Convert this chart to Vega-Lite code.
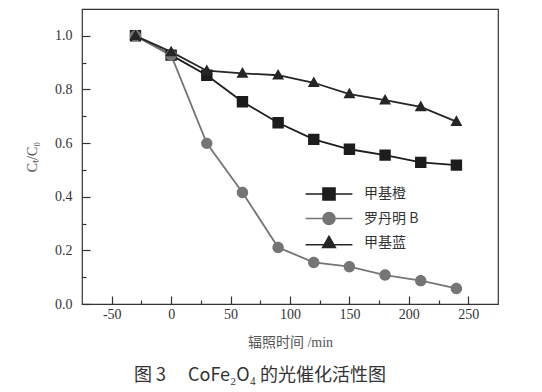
{
  "$schema": "https://vega.github.io/schema/vega-lite/v6.json",
  "width": 416,
  "height": 295,
  "autosize": "none",
  "padding": {"left": 82, "top": 9, "right": 44, "bottom": 88},
  "background": "white",
  "config": {
    "view": {"stroke": "#333", "strokeWidth": 1.2},
    "axis": {"grid": false, "domain": false, "labelFont": "Liberation Serif", "labelFontSize": 14, "labelColor": "#333", "titleFont": "Liberation Serif, Noto Sans CJK SC", "titleFontSize": 14, "titleColor": "#555", "titleFontWeight": "normal", "tickColor": "#333", "tickWidth": 1.2}
  },
  "title": {"text": "图 3\u2003 CoFe₂O₄ 的光催化活性图", "orient": "bottom", "font": "Noto Sans CJK SC", "fontSize": 18, "fontWeight": "normal", "color": "#333", "offset": 18, "dx": -30, "anchor": "middle"},
  "data": {"values": [
    {"t": -30, "c": 1.0, "s": "甲基橙"}, {"t": 0, "c": 0.928, "s": "甲基橙"}, {"t": 30, "c": 0.853, "s": "甲基橙"}, {"t": 60, "c": 0.754, "s": "甲基橙"}, {"t": 90, "c": 0.676, "s": "甲基橙"}, {"t": 120, "c": 0.614, "s": "甲基橙"}, {"t": 150, "c": 0.577, "s": "甲基橙"}, {"t": 180, "c": 0.555, "s": "甲基橙"}, {"t": 210, "c": 0.528, "s": "甲基橙"}, {"t": 240, "c": 0.518, "s": "甲基橙"},
    {"t": -30, "c": 1.0, "s": "罗丹明 B"}, {"t": 0, "c": 0.928, "s": "罗丹明 B"}, {"t": 30, "c": 0.599, "s": "罗丹明 B"}, {"t": 60, "c": 0.416, "s": "罗丹明 B"}, {"t": 90, "c": 0.211, "s": "罗丹明 B"}, {"t": 120, "c": 0.155, "s": "罗丹明 B"}, {"t": 150, "c": 0.139, "s": "罗丹明 B"}, {"t": 180, "c": 0.108, "s": "罗丹明 B"}, {"t": 210, "c": 0.087, "s": "罗丹明 B"}, {"t": 240, "c": 0.058, "s": "罗丹明 B"},
    {"t": -30, "c": 1.0, "s": "甲基蓝"}, {"t": 0, "c": 0.94, "s": "甲基蓝"}, {"t": 30, "c": 0.87, "s": "甲基蓝"}, {"t": 60, "c": 0.86, "s": "甲基蓝"}, {"t": 90, "c": 0.853, "s": "甲基蓝"}, {"t": 120, "c": 0.825, "s": "甲基蓝"}, {"t": 150, "c": 0.783, "s": "甲基蓝"}, {"t": 180, "c": 0.76, "s": "甲基蓝"}, {"t": 210, "c": 0.735, "s": "甲基蓝"}, {"t": 240, "c": 0.68, "s": "甲基蓝"}
  ]},
  "encoding": {
    "x": {"field": "t", "type": "quantitative", "scale": {"domain": [-75, 275], "nice": false, "zero": false},
      "axis": {"title": "辐照时间 /min", "values": [-50, -25, 0, 25, 50, 75, 100, 125, 150, 175, 200, 225, 250], "labelExpr": "datum.value % 50 === 0 ? replace(datum.label, '−', '-') : ''", "tickSize": {"condition": {"test": "datum.value % 50 === 0", "value": -8}, "value": -4}, "labelPadding": 11, "titlePadding": 14}},
    "y": {"field": "c", "type": "quantitative", "scale": {"domain": [0, 1.1], "nice": false},
      "axis": {"title": "Cₜ/C₀", "values": [0, 0.1, 0.2, 0.3, 0.4, 0.5, 0.6, 0.7, 0.8, 0.9, 1.0], "format": ".1f", "labelExpr": "round(datum.value * 10) % 2 === 0 ? datum.label : ''", "tickSize": {"condition": {"test": "round(datum.value * 10) % 2 === 0", "value": -8}, "value": -4}, "labelPadding": 18, "titlePadding": 15}},
    "color": {"field": "s", "type": "nominal", "scale": {"domain": ["甲基橙", "罗丹明 B", "甲基蓝"], "range": ["#1c1c1c", "#757575", "#262626"]},
      "legend": {"title": null, "orient": "none", "legendX": 240, "legendY": 178, "padding": 0, "symbolSize": 144, "symbolStrokeWidth": 1.6, "labelOffset": 28, "rowPadding": 4.5, "labelFont": "Noto Sans CJK SC, Liberation Serif", "labelFontSize": 14, "labelColor": "#333"}}
  },
  "layer": [
    {
      "mark": {"type": "line", "strokeWidth": 1.8},
      "encoding": {"detail": {"field": "s"}}
    },
    {
      "mark": {"type": "point", "filled": true, "opacity": 1, "size": 130, "strokeWidth": 0},
      "encoding": {
        "stroke": {"field": "s", "type": "nominal", "scale": {"domain": ["甲基橙", "罗丹明 B", "甲基蓝"], "range": ["#1c1c1c", "#757575", "#262626"]}},
        "shape": {"field": "s", "type": "nominal", "scale": {"domain": ["甲基橙", "罗丹明 B", "甲基蓝"], "range": ["M-3.9,0H3.9M-1,-1H1V1H-1Z", "M-3.9,0H3.9M-1,0A1,1,0,1,0,1,0A1,1,0,1,0,-1,0Z", "M-3.9,0.3H3.9M0,-1.1L1.05,0.75H-1.05Z"]}}
      }
    }
  ]
}
